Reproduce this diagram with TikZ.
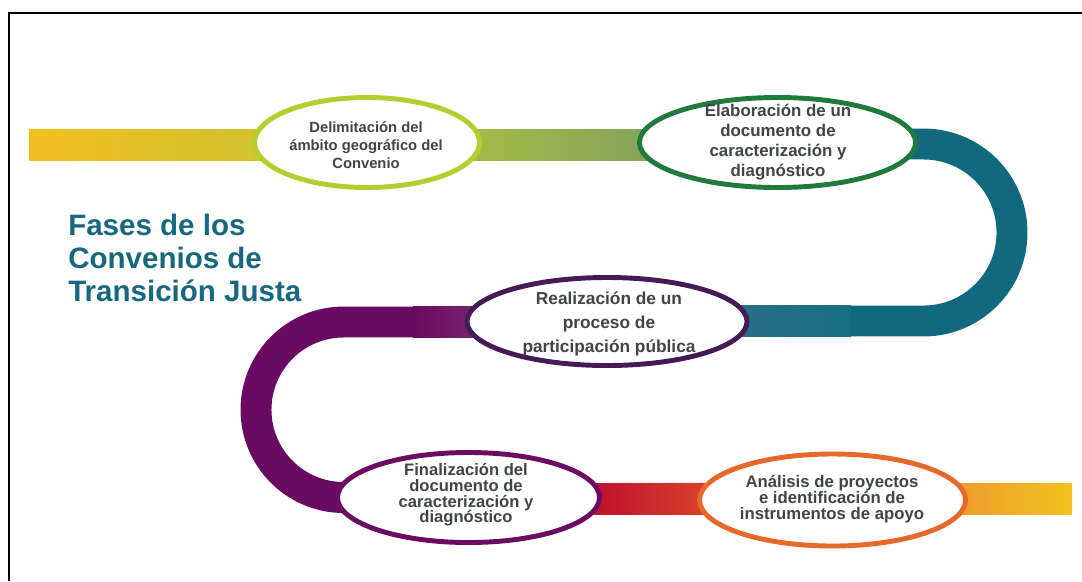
\documentclass[tikz,border=0pt]{standalone}
\usepackage{fontspec}
\setmainfont{Liberation Sans}
\usepackage{xcolor}
\usetikzlibrary{shapes.geometric}

\definecolor{titleblue}{HTML}{17677E}
\definecolor{phasegray}{HTML}{3F4447}
\definecolor{ribteal}{HTML}{10697F}
\definecolor{ribpurple}{HTML}{6A0A62}
\definecolor{limegreen}{HTML}{B7CC2E}
\definecolor{darkgreen}{HTML}{1F7A3C}
\definecolor{darkplum}{HTML}{461A57}
\definecolor{plum}{HTML}{6B0C62}
\definecolor{burntorange}{HTML}{E8682A}

\begin{document}
\begin{tikzpicture}[x=0.025cm, y=-0.025cm]
\tikzstyle{band}=[line width=22pt]
\tikzstyle{phase}=[draw, ellipse, fill=white, line width=3.5pt, inner sep=0pt]
\tikzstyle{phasetext}=[text=phasegray, align=center, inner sep=0pt]
\useasboundingbox (0,0) rectangle (1082,581);

% frame
\draw[line width=1.4pt] (9,581) -- (9,13) -- (1082,13);

% ribbon
\shade[left color={rgb,255:red,241;green,190;blue,31}, right color={rgb,255:red,192;green,197;blue,58}] (29,129) rectangle (400,160);
\shade[left color={rgb,255:red,177;green,195;blue,62}, right color={rgb,255:red,125;green,156;blue,97}] (400,129) rectangle (700,160);
\draw[band, ribteal] (880,144) -- (923.5,144) arc(-90:90:88.5) -- (850,321);
\shade[left color={rgb,255:red,42;green,110;blue,136}, right color={rgb,255:red,22;green,111;blue,130}] (730,305.5) rectangle (851,336.5);
\draw[band, ribpurple] (414,322) -- (343.75,322) arc(-90:-270:87.75) -- (480,497.5);
\shade[left color=ribpurple, right color={rgb,255:red,120;green,38;blue,110}] (413,306.5) rectangle (480,337.5);
\shade[left color={rgb,255:red,190;green,14;blue,46}, right color={rgb,255:red,217;green,67;blue,42}] (590,483) rectangle (710,514);
\shade[left color={rgb,255:red,236;green,154;blue,43}, right color={rgb,255:red,242;green,194;blue,30}] (950,483) rectangle (1072,514);

% title
\node[anchor=west, inner sep=0pt, align=left, text=titleblue, font=\fontsize{21}{23.5}\selectfont\bfseries] (title) at (68,258)
  {Fases de los\\Convenios de\\Transición Justa};

% phases
\node[phase, draw=limegreen, minimum width=5.625cm, minimum height=2.25cm] (delim) at (367,142.5) {};
\node[phasetext, font=\fontsize{10.5}{12.8}\selectfont\bfseries] (delimtext) at (366,145)
  {Delimitación del\\ámbito geográfico del\\Convenio};

\node[phase, draw=darkgreen, minimum width=6.9cm, minimum height=2.25cm] (elab) at (777.5,142.5) {};
\node[phasetext, font=\fontsize{12}{14.2}\selectfont\bfseries] (elabtext) at (778,142)
  {Elaboración de un\\documento de\\caracterización y\\diagnóstico};

\node[phase, draw=darkplum, minimum width=7cm, minimum height=2.2cm] (partic) at (607,321.5) {};
\node[phasetext, font=\fontsize{12.3}{17}\selectfont\bfseries] (partictext) at (609,324)
  {Realización de un\\proceso de\\participación pública};

\node[phase, draw=plum, minimum width=6.55cm, minimum height=2.25cm] (final) at (468.5,497.5) {};
\node[phasetext, font=\fontsize{11.8}{11.2}\selectfont\bfseries] (finaltext) at (466,495)
  {Finalización del\\documento de\\caracterización y\\diagnóstico};

\node[phase, draw=burntorange, minimum width=6.65cm, minimum height=2.3cm] (analisis) at (832.5,500) {};
\node[phasetext, font=\fontsize{11.9}{11.2}\selectfont\bfseries] (analisistext) at (832,499)
  {Análisis de proyectos\\e identificación de\\instrumentos de apoyo};
\end{tikzpicture}
\end{document}
